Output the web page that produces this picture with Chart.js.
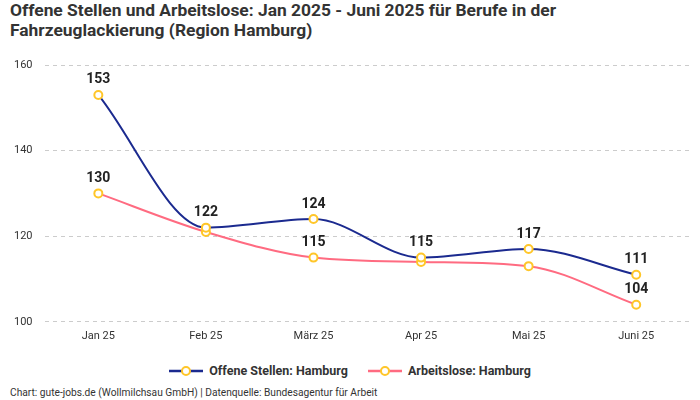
<!DOCTYPE html>
<html>
<head>
<meta charset="utf-8">
<script src="https://cdn.jsdelivr.net/npm/chart.js@4/dist/chart.umd.min.js"></script>
<style>
	body { margin: 0; width: 700px; height: 400px; background: #fff; font-family: Roboto, sans-serif; color: #333; position: relative; overflow: hidden; }
	#title { position: absolute; left: 10px; top: 0px; width: 680px; font-size: 17.4px; font-weight: bold; line-height: 20px; color: #333; }
	#chartBox { position: absolute; left: 0; top: 45px; width: 700px; height: 298px; }
	#legend { position: absolute; left: 0; top: 363px; width: 700px; text-align: center; font-size: 12.5px; font-weight: bold; color: #333; }
	.item { display: inline-flex; align-items: center; margin: 0 10px; }
	.item svg { margin-right: 6px; }
	#footer { position: absolute; left: 10px; top: 387px; font-size: 10.2px; color: #333; }
</style>
</head>
<body>
<div id="title">Offene Stellen und Arbeitslose: Jan 2025 - Juni 2025 für Berufe in der Fahrzeuglackierung (Region Hamburg)</div>
<div id="chartBox"><canvas id="chart"></canvas></div>
<div id="legend"></div>
<div id="footer">Chart: gute-jobs.de (Wollmilchsau GmbH) | Datenquelle: Bundesagentur für Arbeit</div>
<script>
const months = ["Jan 25", "Feb 25", "März 25", "Apr 25", "Mai 25", "Juni 25"];
const offeneStellen = [153, 122, 124, 115, 117, 111];
const arbeitslose = [130, 121, 115, 114, 113, 104];
const seriesNames = ["Offene Stellen: Hamburg", "Arbeitslose: Hamburg"];
const seriesColors = ["#1b2a8f", "#ff6b81"];
const pointColor = "#ffc629";

// labels above points, skipped when they would collide
const valueLabels = {
	id: "valueLabels",
	afterDatasetsDraw(chart) {
		const ctx = chart.ctx;
		ctx.save();
		ctx.font = "bold 14px Roboto, sans-serif";
		ctx.fillStyle = "#222";
		ctx.textAlign = "center";
		ctx.textBaseline = "middle";
		const boxes = [];
		chart.data.datasets.forEach((ds, di) => {
			chart.getDatasetMeta(di).data.forEach(pt => {
				boxes.push({ x1: pt.x - 5, x2: pt.x + 5, y1: pt.y - 5, y2: pt.y + 5 });
			});
		});
		chart.data.datasets.forEach((ds, di) => {
			chart.getDatasetMeta(di).data.forEach((pt, i) => {
				const txt = String(ds.data[i]);
				const w = ctx.measureText(txt).width;
				const box = { x1: pt.x - w / 2, x2: pt.x + w / 2, y1: pt.y - 22, y2: pt.y - 8 };
				const hit = boxes.some(b => b.x1 < box.x2 && b.x2 > box.x1 && b.y1 < box.y2 && b.y2 > box.y1);
				if (hit) return;
				boxes.push(box);
				ctx.fillText(txt, pt.x, pt.y - 15);
			});
		});
		ctx.restore();
	}
};

const legend = document.querySelector("#legend");
seriesNames.forEach((name, i) => {
	const item = document.createElement("span");
	item.className = "item";
	item.innerHTML = `<svg width="34" height="12"><line x1="0" y1="6" x2="34" y2="6" stroke="${seriesColors[i]}" stroke-width="2.5"/><circle cx="17" cy="6" r="4" fill="#fff" stroke="${pointColor}" stroke-width="2"/></svg>${name}`;
	legend.appendChild(item);
});

new Chart(document.getElementById("chart"), {
	type: "line",
	data: {
		labels: months,
		datasets: [
			{ label: seriesNames[0], data: offeneStellen, borderColor: seriesColors[0] },
			{ label: seriesNames[1], data: arbeitslose, borderColor: seriesColors[1] }
		].map(d => Object.assign(d, {
			borderWidth: 2,
			cubicInterpolationMode: "monotone",
			pointRadius: 4,
			pointBorderWidth: 2,
			pointBackgroundColor: "#fff",
			pointBorderColor: pointColor,
			clip: false
		}))
	},
	options: {
		responsive: true,
		maintainAspectRatio: false,
		animation: false,
		layout: { padding: { top: 20, right: 10, left: 2 } },
		plugins: { legend: { display: false }, tooltip: { enabled: false } },
		scales: {
			x: {
				offset: true,
				grid: { display: false },
				border: { display: false },
				ticks: { color: "#333", font: { size: 11, family: "Roboto, sans-serif" }, padding: 0 }
			},
			y: {
				min: 100,
				max: 160,
				ticks: { stepSize: 20, color: "#333", font: { size: 11, family: "Roboto, sans-serif" }, padding: 12 },
				grid: { color: "#cccccc", drawTicks: false },
				border: { display: false, dash: [4, 4] }
			}
		}
	},
	plugins: [valueLabels]
});
</script>
</body>
</html>
